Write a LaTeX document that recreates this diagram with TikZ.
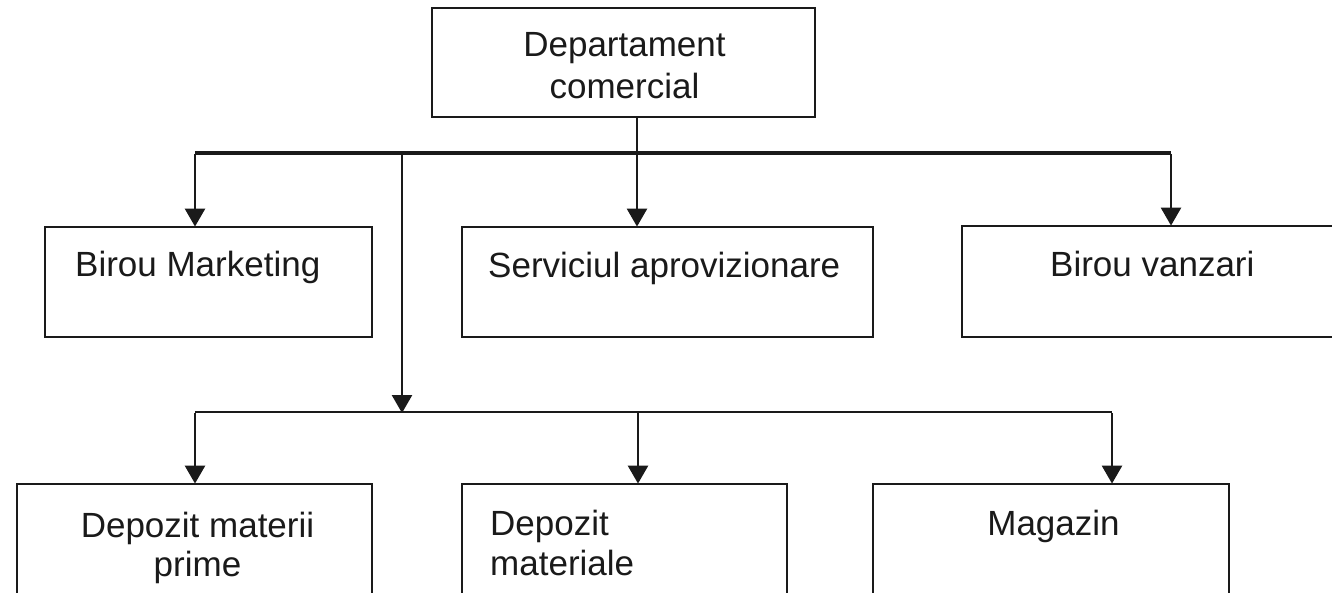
\documentclass[tikz,border=0pt]{standalone}
\usepackage{fontspec}
\setmainfont{Liberation Sans}
\usetikzlibrary{arrows.meta}
\definecolor{ink}{HTML}{1A1A1A}
\tikzset{
  boxnode/.style={draw=ink, line width=2.8pt, rectangle, inner sep=0pt, fill=white},
  txt/.style={inner sep=0pt, text=ink, font=\fontsize{35}{40}\selectfont},
  link/.style={draw=ink, line width=2.6pt},
  bus/.style={draw=ink, line width=4.5pt},
  bus2/.style={draw=ink, line width=2.6pt},
  arr/.style={link, -{Triangle[width=20pt,length=18pt]}, shorten >=-1pt}
}
\begin{document}
\begin{tikzpicture}[x=1pt,y=-1pt]
\useasboundingbox (0,0) rectangle (1332,593);
\clip (0,0) rectangle (1332,593);
\fill[white] (0,0) rectangle (1332,593);

% boxes
\node[boxnode, minimum width=383pt, minimum height=109pt] (top) at (623.5,62.5) {};
\node[boxnode, minimum width=327pt, minimum height=110pt] (bm) at (208.5,282) {};
\node[boxnode, minimum width=411pt, minimum height=110pt] (sa) at (667.5,282) {};
\node[boxnode, minimum width=383pt, minimum height=111pt] (bv) at (1153.5,281.5) {};
\node[boxnode, minimum width=355pt, minimum height=126pt] (dmp) at (194.5,547) {};
\node[boxnode, minimum width=325pt, minimum height=126pt] (dm) at (624.5,547) {};
\node[boxnode, minimum width=356pt, minimum height=126pt] (mg) at (1051,547) {};

% texts
\node[txt, anchor=base] (t1) at (624.5,57) {Departament};
\node[txt, anchor=base] (t2) at (624.5,99) {comercial};
\node[txt, anchor=base west] (t3) at (75,277) {Birou Marketing};
\node[txt, anchor=base west] (t4) at (488,278) {Serviciul aprovizionare};
\node[txt, anchor=base west] (t5) at (1050,277) {Birou vanzari};
\node[txt, anchor=base] (t6) at (197.5,537) {Depozit materii};
\node[txt, anchor=base] (t7) at (197.5,576) {prime};
\node[txt, anchor=base west] (t8) at (490,535) {Depozit};
\node[txt, anchor=base west] (t9) at (490,575) {materiale};
\node[txt, anchor=base] (t10) at (1053.5,535) {Magazin};

% junction coordinates
\coordinate (b1l) at (195,153);
\coordinate (b1m) at (637,153);
\coordinate (b1s) at (402,153);
\coordinate (b1r) at (1171,153);
\coordinate (b2l) at (195,412);
\coordinate (b2m) at (638,412);
\coordinate (b2s) at (402,412);
\coordinate (b2r) at (1112,412);

% first level
\draw[bus] (b1l) -- (b1r);
\draw[arr] (top.south -| b1m) -- (sa.north -| b1m);
\draw[arr] ([yshift=-1pt]b1l) -- (bm.north -| b1l);
\draw[arr] ([yshift=-1pt]b1r) -- (bv.north -| b1r);

% second level
\draw[arr] (b1s) -- (b2s);
\draw[bus2] (b2l) -- (b2r);
\draw[arr] ([yshift=-1pt]b2l) -- (dmp.north -| b2l);
\draw[arr] (b2m) -- (dm.north -| b2m);
\draw[arr] ([yshift=-1pt]b2r) -- (mg.north -| b2r);
\end{tikzpicture}
\end{document}
